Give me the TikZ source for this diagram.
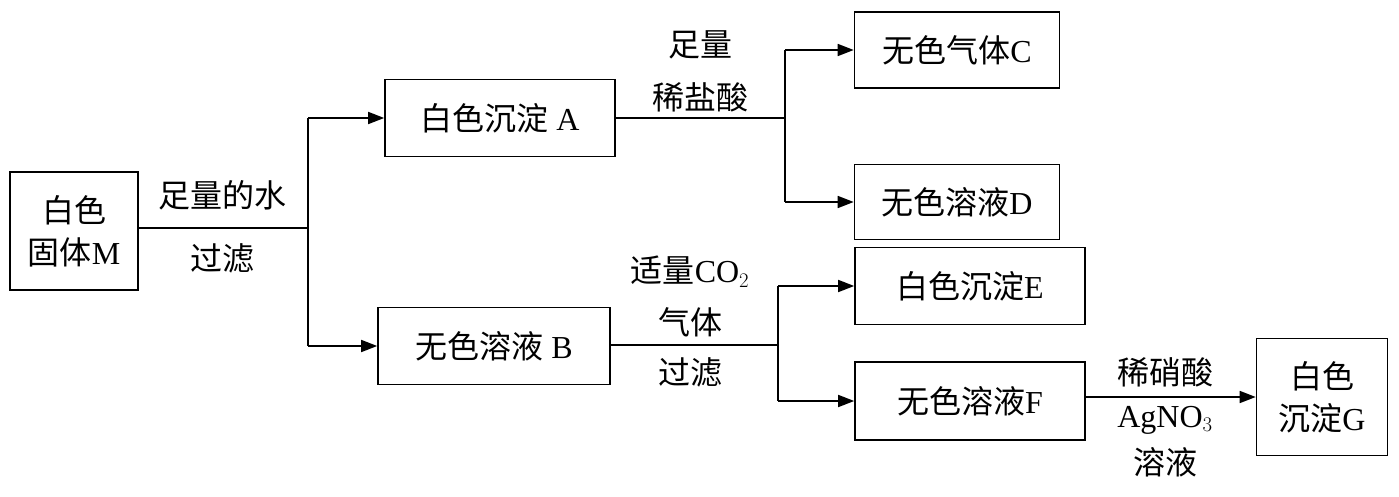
\documentclass[tikz,border=0pt]{standalone}
\usetikzlibrary{arrows.meta}
\usepackage{fontspec}
\setmainfont{Liberation Serif}
\newfontfamily\cjk{Noto Sans CJK SC}
\newcommand{\zh}[1]{{\cjk #1}}
\begin{document}
\begin{tikzpicture}[x=1pt,y=-1pt,
  box/.style={draw,line width=1.6pt,inner sep=0pt,align=center,font=\fontsize{32}{42}\selectfont},
  lab/.style={inner sep=0pt,align=center,font=\fontsize{32}{36}\selectfont},
  ln/.style={line width=1.6pt},
  ar/.style={line width=1.6pt,-{Triangle[length=16pt,width=12pt]}}]
\useasboundingbox (0,0) rectangle (1399,497);
\node[box,minimum width=128,minimum height=118] (M) at (74,231) {\zh{白色}\\\zh{固体}M};
\node[box,minimum width=230,minimum height=77] (A) at (500,118) {\zh{白色沉淀} A};
\node[box,minimum width=232,minimum height=77] (B) at (494,346) {\zh{无色溶液} B};
\node[box,minimum width=205,minimum height=76] (C) at (957,50) {\zh{无色气体}C};
\node[box,minimum width=205,minimum height=75] (D) at (957,202) {\zh{无色溶液}D};
\node[box,minimum width=230,minimum height=77] (E) at (970,286) {\zh{白色沉淀}E};
\node[box,minimum width=230,minimum height=78] (F) at (970,401) {\zh{无色溶液}F};
\node[box,minimum width=131,minimum height=117] (G) at (1322,397) {\zh{白色}\\\zh{沉淀}G};
\coordinate (j1) at (308,228);
\coordinate (j2) at (785,118);
\coordinate (j3) at (778,345);
\draw[ln] (M.east|-j1) -- (j1);
\draw[ar] (j1|-A) -- (A.west);
\draw[ar] (j1|-B) -- (B.west);
\draw[ln] (j1|-A) -- (j1|-B);
\draw[ln] (A.east) -- (j2);
\draw[ln] (j2|-C) -- (j2|-D);
\draw[ar] (j2|-C) -- (C.west);
\draw[ar] (j2|-D) -- (D.west);
\draw[ln] (B.east|-j3) -- (j3);
\draw[ln] (j3|-E) -- (j3|-F);
\draw[ar] (j3|-E) -- (E.west);
\draw[ar] (j3|-F) -- (F.west);
\draw[ar] (F.east|-G) -- (G.west);
\node[lab] (l1) at (222,195) {\zh{足量的水}};
\node[lab] (l2) at (222,258) {\zh{过滤}};
\node[lab] (l3) at (700,45) {\zh{足量}};
\node[lab] (l4) at (700,97) {\zh{稀盐酸}};
\node[lab] (l5) at (690,272) {\zh{适量}CO$_2$};
\node[lab] (l6) at (690,322) {\zh{气体}};
\node[lab] (l7) at (690,372) {\zh{过滤}};
\node[lab] (l8) at (1165,372) {\zh{稀硝酸}};
\node[lab] (l9) at (1165,420) {AgNO$_3$};
\node[lab] (l10) at (1165,462) {\zh{溶液}};
\end{tikzpicture}
\end{document}
